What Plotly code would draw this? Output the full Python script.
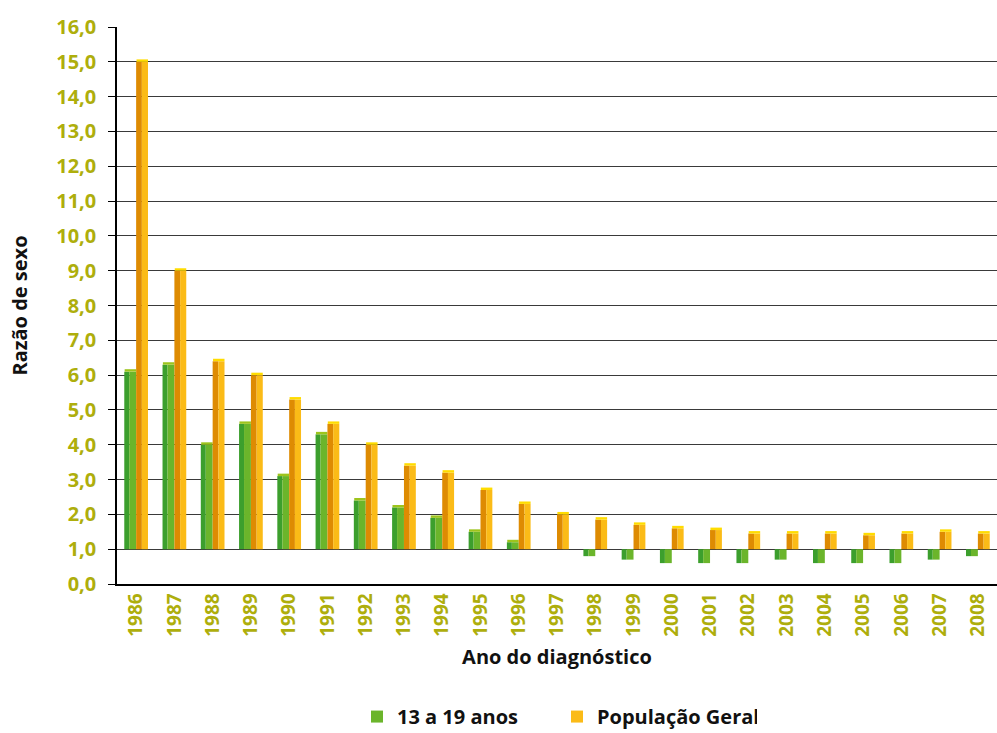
import plotly.graph_objects as go

years = [str(y) for y in range(1986, 2009)]
adolescentes = [6.1, 6.3, 4.0, 4.6, 3.1, 4.3, 2.4, 2.2, 1.9, 1.5, 1.2, 1.0,
                0.8, 0.7, 0.6, 0.6, 0.6, 0.7, 0.6, 0.6, 0.6, 0.7, 0.8]
populacao = [15.0, 9.0, 6.4, 6.0, 5.3, 4.6, 4.0, 3.4, 3.2, 2.7, 2.3, 2.0,
             1.85, 1.7, 1.6, 1.55, 1.45, 1.45, 1.45, 1.4, 1.45, 1.5, 1.45]
base_value = 1.0
cap_height = 0.07

olive = "#AEAE0C"
font_family = "Open Sans, Noto Sans, sans-serif"


def rel(vals):
    return [v - base_value for v in vals]


def caps(vals):
    # thin top face drawn just above the bar end (3D look)
    return [max(v, base_value) for v in vals]


fig = go.Figure()
# green series: dark left face + light right face + top face
fig.add_trace(go.Bar(x=years, y=rel(adolescentes), base=base_value, offset=-0.31, width=0.13,
                     marker=dict(color="#3C9F2D", line=dict(width=0)), showlegend=False,
                     legendgroup="a", name="13 a 19 anos"))
fig.add_trace(go.Bar(x=years, y=rel(adolescentes), base=base_value, offset=-0.18, width=0.18,
                     marker=dict(color="#6BB52B", line=dict(width=0)), showlegend=True,
                     legendgroup="a", name="13 a 19 anos"))
fig.add_trace(go.Bar(x=years, y=[cap_height if v > base_value else 0 for v in adolescentes],
                     base=caps(adolescentes), offset=-0.30, width=0.30,
                     marker=dict(color="#9DC41C", line=dict(width=0)), showlegend=False,
                     legendgroup="a", hoverinfo="skip"))
# orange series
fig.add_trace(go.Bar(x=years, y=rel(populacao), base=base_value, offset=0.0, width=0.15,
                     marker=dict(color="#DE8B02", line=dict(width=0)), showlegend=False,
                     legendgroup="p", name="População Geral"))
fig.add_trace(go.Bar(x=years, y=rel(populacao), base=base_value, offset=0.15, width=0.16,
                     marker=dict(color="#FBBB17", line=dict(width=0)), showlegend=True,
                     legendgroup="p", name="População Geral"))
fig.add_trace(go.Bar(x=years, y=[cap_height] * len(populacao),
                     base=caps(populacao), offset=0.01, width=0.30,
                     marker=dict(color="#FFDC00", line=dict(width=0)), showlegend=False,
                     legendgroup="p", hoverinfo="skip"))

fig.update_layout(
    width=997, height=733,
    margin=dict(l=117, r=0, t=27, b=149, autoexpand=False),
    plot_bgcolor="white", paper_bgcolor="white",
    barmode="overlay",
    separators=",.",
    font=dict(family=font_family, color="black"),
    showlegend=True,
    legend=dict(orientation="h", x=0.5, xanchor="center", y=-0.238, yanchor="middle",
                font=dict(size=20, weight=700, color="#111"),
                traceorder="normal", itemwidth=30,
                entrywidth=155, entrywidthmode="pixels"),
)
fig.update_yaxes(
    range=[0, 16], dtick=1, tick0=0, tickformat=".1f",
    showgrid=True, gridcolor="#3a3a3a", gridwidth=1,
    zeroline=False, automargin=False,
    showline=True, linecolor="black", linewidth=1.5,
    ticks="outside", ticklen=7, tickcolor="black",
    ticklabelstandoff=8,
    tickfont=dict(size=20, color=olive, weight=700),
    title=dict(text="Razão de sexo", font=dict(size=20, weight=700, color="#111"), standoff=23),
)
fig.update_xaxes(
    type="category", range=[-0.5, 22.5],
    showline=True, linecolor="black", linewidth=1.5,
    ticks="", tickangle=-90, automargin=False,
    tickfont=dict(size=19, color=olive, weight=700),
    title=dict(text="Ano do diagnóstico", font=dict(size=20, weight=700, color="#111"), standoff=14),
)

fig.write_html("out.html")
